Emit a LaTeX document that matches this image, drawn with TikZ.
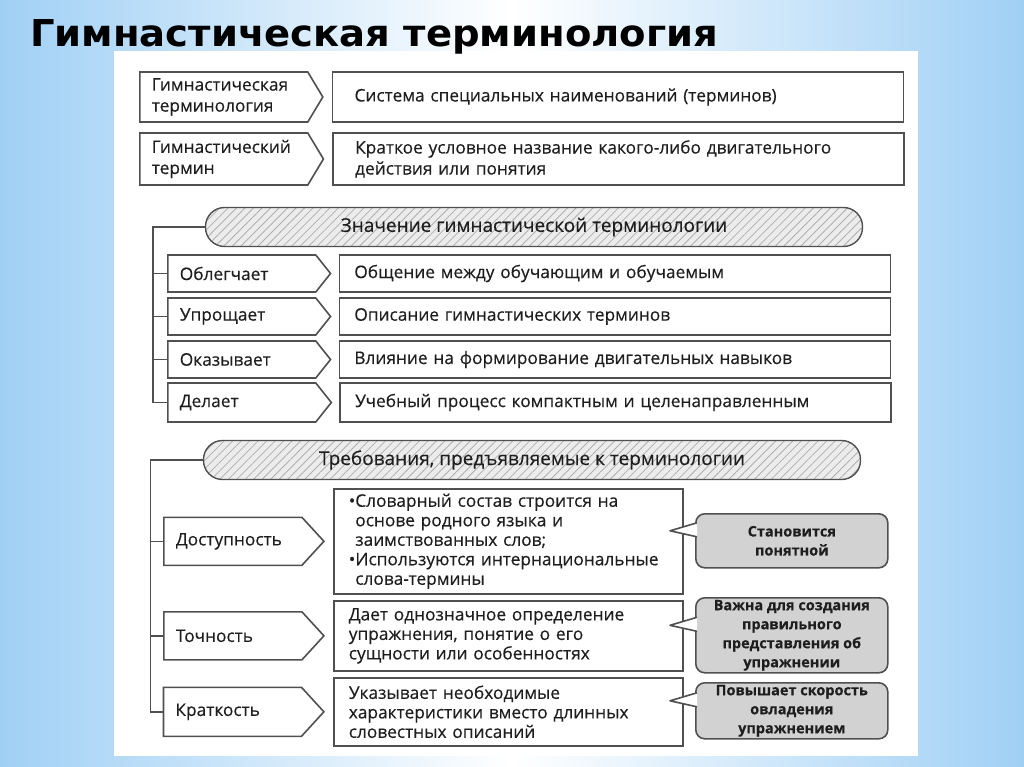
\documentclass[tikz,border=0pt]{standalone}
\usepackage{graphicx}
\usepackage{fontspec}
\setmainfont{Open Sans}[FakeBold=0.3]
\newfontfamily\titlefont{DejaVu Sans Condensed}
\usetikzlibrary{positioning,shapes.symbols,patterns.meta}
\definecolor{bgblue}{RGB}{160,208,245}
\definecolor{boxline}{RGB}{80,80,80}
\definecolor{ink}{RGB}{30,30,30}
\definecolor{notefill}{RGB}{210,210,210}
\definecolor{hdrfill}{RGB}{236,236,236}
\definecolor{hatch}{RGB}{175,175,175}
\tikzset{
  lbl/.style={signal, signal to=east, draw=boxline, line width=1.6pt, fill=white,
    anchor=west, align=left, inner xsep=12pt, inner ysep=0pt, text=ink,
    font=\fontsize{17.3}{21}\selectfont},
  info/.style={rectangle, draw=boxline, line width=1.6pt, fill=white,
    align=left, inner xsep=15pt, inner ysep=0pt, text=ink,
    font=\fontsize{17.3}{19.5}\selectfont},
  hdr/.style={rectangle, rounded corners=19pt, draw=boxline, line width=1.4pt,
    preaction={fill=hdrfill}, pattern={Lines[angle=45,distance=6pt,line width=0.8pt]},
    pattern color=hatch, minimum width=657pt, minimum height=39pt, text=ink,
    font=\fontsize{19}{20}\selectfont},
  note/.style={rectangle, rounded corners=9pt, draw=boxline, line width=1.6pt,
    fill=notefill, minimum width=192pt, align=center, text=ink, inner ysep=0pt,
    font=\bfseries\fontsize{14.5}{19}\selectfont},
  brk/.style={draw=boxline, line width=1.4pt},
  tipline/.style={draw=boxline, line width=1.6pt, fill=white, line join=round}
}
\begin{document}
\begin{tikzpicture}[x=1pt,y=-1pt]
  \shade[left color=bgblue, right color=bgblue, middle color=white] (0,0) rectangle (1024,767);
  \fill[white] (114,51) rectangle (918,756);
  \node[anchor=base west, inner sep=0pt] (title) at (30,47)
    {\resizebox{688pt}{27pt}{\titlefont\bfseries Гимнастическая терминология}};

  % definitions
  \node[lbl, text width=144pt, signal pointer angle=118, minimum height=50pt] (t1) at (139,97)
    {Гимнастическая\\терминология};
  \node[info, text width=527pt, inner xsep=22pt, minimum height=50pt, right=8pt of t1] (t1d)
    {Система специальных наименований (терминов)};
  \node[lbl, text width=144pt, signal pointer angle=118, minimum height=52pt] (t2) at (139,159)
    {Гимнастический\\термин};
  \node[info, text width=527pt, inner xsep=22pt, minimum height=52pt, right=8pt of t2,
    font=\fontsize{17.3}{21}\selectfont] (t2d)
    {Краткое условное название какого-либо двигательного\\действия или понятия};

  % significance
  \node[hdr] (h1) at (534,227) {Значение гимнастической терминологии};
  \node[lbl, text width=124pt, signal pointer angle=103, minimum height=37pt] (o1) at (167,273.5) {Облегчает};
  \node[lbl, text width=124pt, signal pointer angle=103, minimum height=37pt] (o2) at (167,316.5) {Упрощает};
  \node[lbl, text width=124pt, signal pointer angle=103, minimum height=37pt] (o3) at (167,359.5) {Оказывает};
  \node[lbl, text width=124pt, signal pointer angle=103, minimum height=39pt] (o4) at (167,402.5) {Делает};
  \node[info, text width=521pt, minimum height=37pt, right=7pt of o1] (o1d) {Общение между обучающим и обучаемым};
  \node[info, text width=521pt, minimum height=37pt, right=7pt of o2] (o2d) {Описание гимнастических терминов};
  \node[info, text width=521pt, minimum height=37pt, right=7pt of o3] (o3d) {Влияние на формирование двигательных навыков};
  \node[info, text width=521pt, minimum height=39pt, right=7pt of o4] (o4d) {Учебный процесс компактным и целенаправленным};
  \draw[brk] (h1.west) -| ([xshift=-14pt]o4.west) -- (o4.west);
  \foreach \n in {o1,o2,o3}
    \draw[brk] (\n.west) -- ++(-14,0);

  % requirements
  \node[hdr] (h2) at (532,460) {Требования, предъявляемые к терминологии};
  \node[info, text width=319pt, minimum height=105pt, anchor=north west] (r1d) at (333,488)
    {•Словарный состав строится на\\\hphantom{•}основе родного языка и\\\hphantom{•}заимствованных слов;\\
     •Используются интернациональные\\\hphantom{•}слова-термины};
  \node[info, text width=319pt, minimum height=70pt, anchor=north west] (r2d) at (333,600)
    {Дает однозначное определение\\упражнения, понятие о его\\сущности или особенностях};
  \node[info, text width=319pt, minimum height=68pt, anchor=north west] (r3d) at (333,677)
    {Указывает необходимые\\характеристики вместо длинных\\словестных описаний};
  \node[lbl, text width=114pt, signal pointer angle=95, minimum height=48pt, left=8pt of r1d] (r1) {Доступность};
  \node[lbl, text width=114pt, signal pointer angle=95, minimum height=48pt, left=8pt of r2d] (r2) {Точность};
  \node[lbl, text width=114pt, signal pointer angle=95, minimum height=49pt, left=8pt of r3d] (r3) {Краткость};
  \draw[brk] (h2.west) -| ([xshift=-12pt]r3.west) -- (r3.west);
  \foreach \n in {r1,r2}
    \draw[brk] (\n.west) -- ++(-12,0);

  \node[note, minimum height=54pt, anchor=north west] (n1) at (695,513) {Становится\\понятной};
  \node[note, minimum height=75pt, anchor=north west] (n2) at (695,597)
    {Важна для создания\\правильного\\представления об\\упражнении};
  \node[note, minimum height=56pt, anchor=north west] (n3) at (695,682)
    {Повышает скорость\\овладения\\упражнением};
  \foreach \n in {n1,n2,n3}
    \draw[tipline] (\n.west) ++(2,-4) -- ++(-27,-6) -- ++(27,-8);
\end{tikzpicture}
\end{document}
